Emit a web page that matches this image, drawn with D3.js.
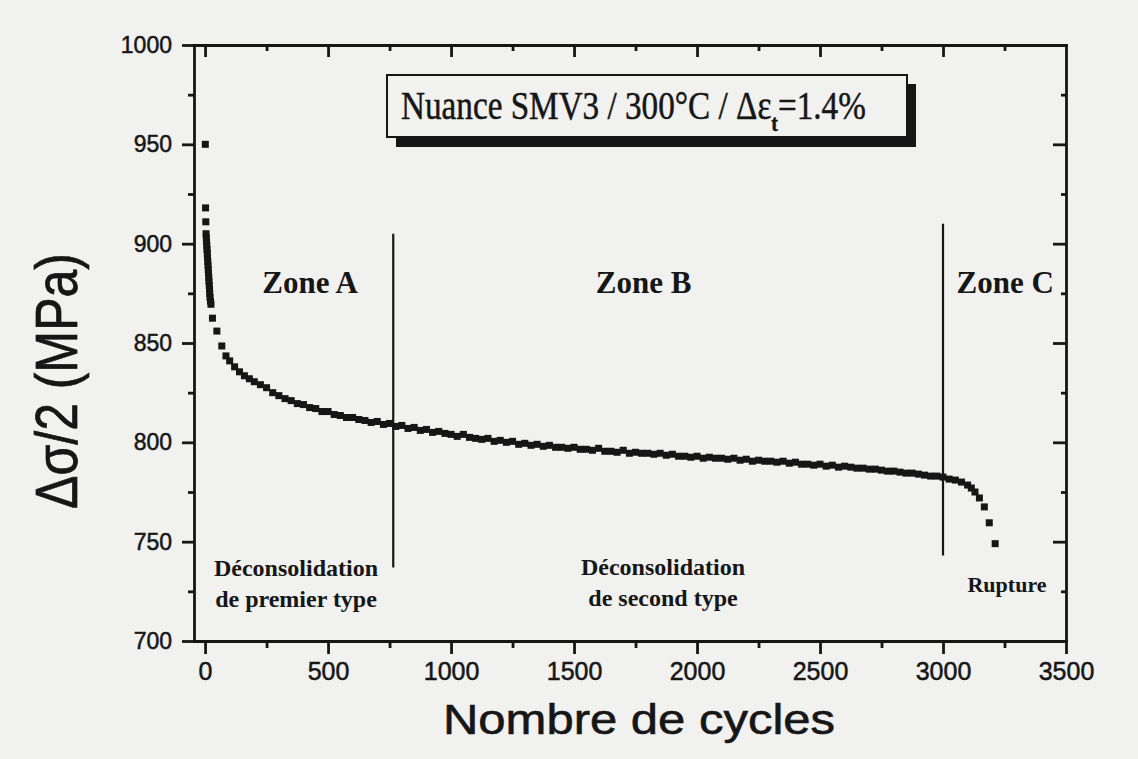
<!DOCTYPE html>
<html>
<head>
<meta charset="utf-8">
<script src="https://cdn.jsdelivr.net/npm/d3@7"></script>
<style>
  body { margin: 0; background: #f1f1ef; }
  svg { display: block; }
</style>
</head>
<body>
<svg class="chart" width="1138" height="759"></svg>
<script>
// cycle number of each recorded point
const cycles = [
  1, 2, 3, 4, 5, 6, 7, 8, 9, 10,
  11, 12, 13, 14, 15, 16, 17, 18, 19, 20,
  22, 24, 30, 48, 68, 85, 100, 120, 140, 160,
  180, 200,
  225, 250, 275, 300, 325, 350, 375, 400, 425, 450,
  475, 500, 525, 550, 575, 600, 625, 650, 675, 700,
  725, 750, 775, 800, 825, 850, 875, 900, 925, 950,
  975, 1000, 1025, 1050, 1075, 1100, 1125, 1150, 1175, 1200,
  1225, 1250, 1275, 1300, 1325, 1350, 1375, 1400, 1425, 1450,
  1475, 1500, 1525, 1550, 1575, 1600, 1625, 1650, 1675, 1700,
  1725, 1750, 1775, 1800, 1825, 1850, 1875, 1900, 1925, 1950,
  1975, 2000, 2025, 2050, 2075, 2100, 2125, 2150, 2175, 2200,
  2225, 2250, 2275, 2300, 2325, 2350, 2375, 2400, 2425, 2450,
  2475, 2500, 2525, 2550, 2575, 2600, 2625, 2650, 2675, 2700,
  2725, 2750, 2775, 2800, 2825, 2850, 2875, 2900, 2925, 2950,
  2975, 3000, 3025, 3050, 3075, 3100, 3115, 3130, 3148, 3168,
  3188, 3212
];

// stress amplitude (MPa) for each cycle above
const stress = [
  950, 918, 911, 905, 903, 901, 899, 897, 895, 893,
  891, 889, 887, 885, 883, 881, 879, 877, 875, 873,
  871, 869.5, 862.5, 856, 848.5, 843.5, 841, 838, 835.5, 833.5,
  832, 830.5,
  829, 827.5, 825, 823.5, 822, 821, 819.5, 819, 817.5, 817,
  815.5, 815.5, 814, 813.5, 812.5, 812.5, 811.5, 811, 810, 810.5,
  809, 809.5, 808, 808.5, 807, 807.5, 806, 806.5, 805, 805.5,
  804.5, 804, 803, 804, 802.5, 802, 801.5, 802, 800.5, 801,
  800, 800.5, 799, 799.5, 798.5, 799, 798, 798.5, 797.5, 797.5,
  797, 797.5, 796.5, 796.5, 796, 797, 795.5, 795.5, 795, 796,
  794.5, 795, 794.5, 794.5, 794, 794.5, 793.5, 794, 793, 793,
  792.5, 793, 792, 792.5, 792, 792, 791.5, 792, 791, 791.5,
  790.5, 791, 790.5, 790.5, 790, 790.5, 789.5, 790, 789, 789,
  788.5, 789, 788, 788.5, 787.5, 788, 787.5, 787, 787, 786.5,
  786.5, 786, 785.5, 785.5, 785, 784.5, 784.5, 784, 783.5, 783,
  783, 782.5, 781.5, 781, 780, 778.5, 777, 775, 772, 767.5,
  759.5, 749
];

const xTicks = [0, 500, 1000, 1500, 2000, 2500, 3000, 3500];
const xMinor = [250, 750, 1250, 1750, 2250, 2750, 3250];
const yTicks = [700, 750, 800, 850, 900, 950, 1000];
const yMinor = [725, 775, 825, 875, 925, 975];

const zoneLimits = [765, 3000];
const zoneNames = ["Zone A", "Zone B", "Zone C"];
const regimeA = ["Déconsolidation", "de premier type"];
const regimeB = ["Déconsolidation", "de second type"];
const ruptureLabel = "Rupture";

const ink = "#161616";
const bg = "#f1f1ef";
const sans = "'Liberation Sans', Arial, sans-serif";
const serif = "'Liberation Serif', 'Times New Roman', serif";

let svg = d3.select("svg.chart");

let x = d3.scaleLinear().domain([-45, 3500]).range([194, 1066]);
let y = d3.scaleLinear().domain([700, 1000]).range([641, 45]);

function inkAxis(g) {
  g.selectAll("path, line").attr("stroke", ink).attr("stroke-width", 2.8);
  g.select(".domain").attr("stroke-linecap", "square");
  g.selectAll("text").attr("fill", ink).attr("stroke", ink).attr("stroke-width", 0.5);
}

// bottom axis, labelled
svg.append("g")
  .attr("transform", `translate(0,${y(700)})`)
  .call(d3.axisBottom(x).tickValues(xTicks).tickSize(13).tickSizeOuter(0)
    .tickPadding(8).tickFormat(d => d))
  .call(inkAxis)
  .call(g => g.selectAll("text").attr("font-family", sans).attr("font-size", 25));

svg.append("g")
  .attr("transform", `translate(0,${y(700)})`)
  .call(d3.axisBottom(x).tickValues(xMinor).tickSize(7).tickFormat(""))
  .call(inkAxis)
  .call(g => g.select(".domain").remove());

// left axis, labelled
svg.append("g")
  .attr("transform", `translate(${x(-45)},0)`)
  .call(d3.axisLeft(y).tickValues(yTicks).tickSize(12).tickSizeOuter(0)
    .tickPadding(10).tickFormat(d => d))
  .call(inkAxis)
  .call(g => g.selectAll("text").attr("font-family", sans).attr("font-size", 23));

svg.append("g")
  .attr("transform", `translate(${x(-45)},0)`)
  .call(d3.axisLeft(y).tickValues(yMinor).tickSize(6).tickFormat(""))
  .call(inkAxis)
  .call(g => g.select(".domain").remove());

// top and right frame, ticks inward
svg.append("g")
  .attr("transform", `translate(0,${y(1000)})`)
  .call(d3.axisTop(x).tickValues(xTicks.filter(d => d < 3500)).tickSize(-12).tickSizeOuter(0).tickFormat(""))
  .call(inkAxis);

svg.append("g")
  .attr("transform", `translate(0,${y(1000)})`)
  .call(d3.axisTop(x).tickValues(xMinor).tickSize(-6).tickFormat(""))
  .call(inkAxis)
  .call(g => g.select(".domain").remove());

svg.append("g")
  .attr("transform", `translate(${x(3500)},0)`)
  .call(d3.axisRight(y).tickValues(yTicks.filter(d => d > 700 && d < 1000)).tickSize(-13).tickSizeOuter(0).tickFormat(""))
  .call(inkAxis);

svg.append("g")
  .attr("transform", `translate(${x(3500)},0)`)
  .call(d3.axisRight(y).tickValues(yMinor).tickSize(-5).tickFormat(""))
  .call(inkAxis)
  .call(g => g.select(".domain").remove());

// axis titles
svg.append("text")
  .attr("x", 639).attr("y", 734)
  .attr("text-anchor", "middle")
  .attr("font-family", sans).attr("font-size", 42)
  .attr("textLength", 392).attr("lengthAdjust", "spacingAndGlyphs")
  .attr("fill", ink).attr("stroke", ink).attr("stroke-width", 0.6)
  .text("Nombre de cycles");

svg.append("text")
  .attr("transform", "translate(77,381) scale(1.2,1) rotate(-90)")
  .attr("text-anchor", "middle")
  .attr("font-family", sans).attr("font-size", 50)
  .attr("fill", ink).attr("stroke", ink).attr("stroke-width", 0.6)
  .text("Δσ/2 (MPa)");

// zone separators
svg.append("g")
  .selectAll("line")
  .data(zoneLimits)
  .enter()
  .append("line")
    .attr("x1", d => x(d)).attr("x2", d => x(d))
    .attr("y1", (d, i) => y(i === 0 ? 905 : 910))
    .attr("y2", (d, i) => y(i === 0 ? 737 : 743))
    .attr("stroke", ink).attr("stroke-width", 2.2);

// measured points
svg.append("g")
  .selectAll("rect")
  .data(cycles.map((c, i) => [c, stress[i]]))
  .enter()
  .append("rect")
    .attr("x", d => x(d[0]) - 3.5)
    .attr("y", d => y(d[1]) - 3.5)
    .attr("width", 7).attr("height", 7)
    .attr("fill", ink);

// zone names
let zoneX = [x(427), x(1783), x(3253)];
svg.append("g")
  .selectAll("text")
  .data(zoneNames)
  .enter()
  .append("text")
    .attr("x", (d, i) => zoneX[i])
    .attr("y", 293)
    .attr("text-anchor", "middle")
    .attr("font-family", serif).attr("font-weight", "bold").attr("font-size", 31)
    .attr("fill", ink)
    .text(d => d);

function regime(lines, cx, y0) {
  svg.append("g")
    .selectAll("text")
    .data(lines)
    .enter()
    .append("text")
      .attr("x", cx).attr("y", (d, i) => y0 + i * 31)
      .attr("text-anchor", "middle")
      .attr("font-family", serif).attr("font-weight", "bold").attr("font-size", 24)
      .attr("fill", ink)
      .text(d => d);
}
regime(regimeA, 296, 576);
regime(regimeB, 663, 575);

svg.append("text")
  .attr("x", 1007).attr("y", 592)
  .attr("text-anchor", "middle")
  .attr("font-family", serif).attr("font-weight", "bold").attr("font-size", 22)
  .attr("fill", ink)
  .text(ruptureLabel);

// title box with drop shadow
svg.append("rect")
  .attr("x", 396).attr("y", 84).attr("width", 520).attr("height", 63)
  .attr("fill", ink);
svg.append("rect")
  .attr("x", 387).attr("y", 75).attr("width", 520).attr("height", 62)
  .attr("fill", bg).attr("stroke", ink).attr("stroke-width", 2);

let title = svg.append("g")
  .attr("transform", "translate(401,119) scale(0.83,1)")
  .append("text")
    .attr("x", 0).attr("y", 0)
    .attr("font-family", serif).attr("font-size", 40)
    .attr("fill", ink).attr("stroke", ink).attr("stroke-width", 0.5);
title.append("tspan").text("Nuance SMV3 / 300°C / Δε");
title.append("tspan").attr("dy", 12).attr("font-size", 24).attr("font-weight", "bold").text("t");
title.append("tspan").attr("dy", -12).text("=1.4%");
</script>
</body>
</html>
